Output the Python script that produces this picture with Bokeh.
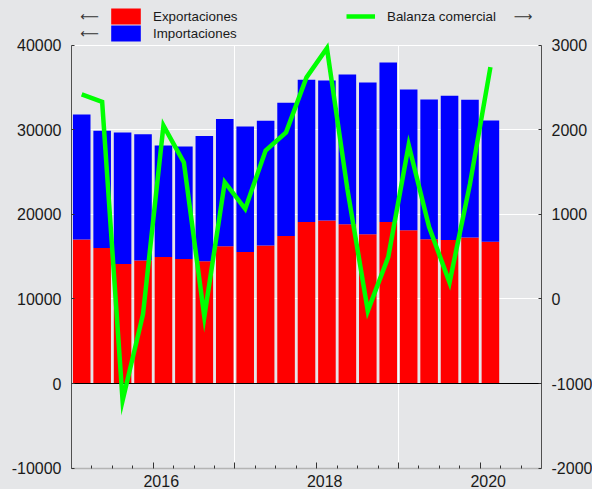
import numpy as np
from bokeh.plotting import figure
from bokeh.models import (ColumnDataSource, Range1d, LinearAxis, FixedTicker, Grid,
                          Legend, LegendItem, Label)
from bokeh.embed import file_html
from bokeh.resources import INLINE

# ---------------- data ----------------
trimestres = ["2015-T1", "2015-T2", "2015-T3", "2015-T4",
              "2016-T1", "2016-T2", "2016-T3", "2016-T4",
              "2017-T1", "2017-T2", "2017-T3", "2017-T4",
              "2018-T1", "2018-T2", "2018-T3", "2018-T4",
              "2019-T1", "2019-T2", "2019-T3", "2019-T4",
              "2020-T1"]
exportaciones = [17020, 16040, 14150, 14540, 14970, 14740, 14450, 16230,
                 15560, 16310, 17460, 19110, 19270, 18830, 17650, 19110,
                 18120, 17060, 16980, 17260, 16780]
importaciones = [14780, 13840, 15520, 14930, 13170, 13280, 14830, 15060,
                 14820, 14750, 15730, 16800, 16550, 17700, 17940, 18840,
                 16640, 16520, 17030, 16280, 14310]
balanza = [2420, 2330, -1200, -180, 2050, 1615, -210, 1380,
           1065, 1755, 1970, 2620, 2965, 1300, -140, 495,
           1820, 850, 195, 1360, 2740]
anios_eje = [2015, 2016, 2017, 2018, 2019, 2020]
anios_etiqueta = ["2016", "2018", "2020"]
anios_rejilla = [2017, 2019]
ticks_izq = [-10000, 0, 10000, 20000, 30000, 40000]
etiquetas_izq = ["-10000", "0", "10000", "20000", "30000", "40000"]
ticks_der = [-2000, -1000, 0, 1000, 2000, 3000]
etiquetas_der = ["-2000", "-1000", "0", "1000", "2000", "3000"]


def pos(t):
    y, q = t.split("-T")
    return int(y) + (int(q) - 0.5) / 4.0


x = [pos(t) for t in trimestres]
src = ColumnDataSource(dict(x=x, exp=exportaciones, imp=importaciones, bal=balanza))

BG = "#e5e6e8"
FONT = "Liberation Sans"
TXT = "#1a1a1a"

# frame covers the full canvas height; the data area is -10000..40000
Y0, Y1 = -10000, 40000
R0, R1 = -2000, 3000
p = figure(frame_width=470, frame_height=481, output_backend="svg", toolbar_location=None,
           x_range=Range1d(2015.0, 2020.75), y_range=Range1d(-12518, 44338),
           extra_y_ranges={"bal": Range1d(-2251.8, 3433.8)},
           min_border=0, min_border_left=63, min_border_right=0,
           min_border_top=0, min_border_bottom=0,
           background_fill_color=BG, border_fill_color=BG, outline_line_color=None,
           x_axis_type=None, y_axis_type=None)

# grids
try:
    vgrid = Grid(dimension=0, ticker=FixedTicker(ticks=anios_rejilla),
                 grid_line_color="white", grid_line_width=1, cross_bounds=(Y0, Y1))
    p.add_layout(vgrid)
except AttributeError:
    p.segment(x0=anios_rejilla, x1=anios_rejilla, y0=[Y0] * len(anios_rejilla),
              y1=[Y1] * len(anios_rejilla), line_color="white", line_width=1)
p.add_layout(Grid(dimension=1, ticker=FixedTicker(ticks=[t for t in ticks_izq if t > 0]),
                  grid_line_color="white", grid_line_width=1))

# bars
r_exp, r_imp = p.vbar_stack(["exp", "imp"], x="x", width=0.215, source=src,
                            fill_color=["#ff0000", "#0000ff"], line_color=None)
# zero line
p.hspan(y=[0], line_color="black", line_width=1)
# balance line
r_bal = p.line("x", "bal", source=src, y_range_name="bal", line_color="#00ff00",
               line_width=4.5, line_join="miter")

# axes
minor = [float(v) for v in np.arange(2015.25, 2020.75, 0.25) if abs(v - round(v)) > 1e-9]
xaxis = LinearAxis(ticker=FixedTicker(ticks=anios_eje, minor_ticks=minor),
                   fixed_location=Y0,
                   major_label_overrides={a: "" for a in anios_eje},
                   axis_line_color="#b4b4b4", axis_line_width=1.5,
                   major_tick_in=6, major_tick_out=0, minor_tick_in=3, minor_tick_out=0,
                   major_tick_line_color="#333333", minor_tick_line_color="#333333",
                   major_label_standoff=0, major_label_text_font_size="1px")
p.add_layout(xaxis, "below")

yl = LinearAxis(ticker=FixedTicker(ticks=ticks_izq), bounds=(Y0, Y1),
                major_label_overrides=dict(zip(ticks_izq, etiquetas_izq)),
                axis_line_color="#505050", major_tick_in=3, major_tick_out=0,
                major_tick_line_color="#333333",
                major_label_standoff=10, major_label_text_font=FONT,
                major_label_text_font_size="16px", major_label_text_color=TXT)
p.add_layout(yl, "left")

yr = LinearAxis(y_range_name="bal", ticker=FixedTicker(ticks=ticks_der), bounds=(R0, R1),
                major_label_overrides=dict(zip(ticks_der, etiquetas_der)),
                axis_line_color="#505050", major_tick_in=3, major_tick_out=0,
                major_tick_line_color="#333333",
                major_label_standoff=10, major_label_text_font=FONT,
                major_label_text_font_size="16px", major_label_text_color=TXT)
p.add_layout(yr, "right")

# x tick labels (frame-relative screen y, measured up from the canvas bottom)
for lab in anios_etiqueta:
    p.add_layout(Label(x=int(lab), y=9, x_units="data", y_units="screen", x_offset=8,
                       text=lab, text_align="center", text_baseline="middle",
                       text_font=FONT, text_font_size="16px", text_color=TXT))

# legends
def mk_legend(label, rend, loc, gw, gh, standoff):
    return Legend(items=[LegendItem(label=label, renderers=[rend])], location=loc,
                  glyph_width=gw, glyph_height=gh, label_height=gh, label_standoff=standoff,
                  padding=0, margin=0, spacing=0,
                  border_line_alpha=0, background_fill_alpha=0,
                  label_text_font=FONT, label_text_font_size="13.33px",
                  label_text_color=TXT)

p.add_layout(mk_legend("Exportaciones", r_exp, (36, 462.7), 37, 20, 9))
p.add_layout(mk_legend("Importaciones", r_imp, (36, 445.6), 37, 20, 9))
p.add_layout(mk_legend("Balanza comercial", r_bal, (275, 462.7), 29, 20, 12))

for (ax, ay, t) in [(18, 473, "\u27f5"), (18, 456, "\u27f5"), (451.5, 473, "\u27f6")]:
    p.add_layout(Label(x=ax, y=ay, x_units="screen", y_units="screen", text=t,
                       text_align="center", text_baseline="middle",
                       text_font="DejaVu Sans", text_font_size="13px", text_color="#333333"))

html = file_html(p, INLINE)
html = html.replace("</head>",
                    "<style>html,body{background-color:#e5e6e8;overflow:hidden;}"
                    "body{margin:8px 0 0 8px;}</style></head>", 1)
open("out.html", "w").write(html)
